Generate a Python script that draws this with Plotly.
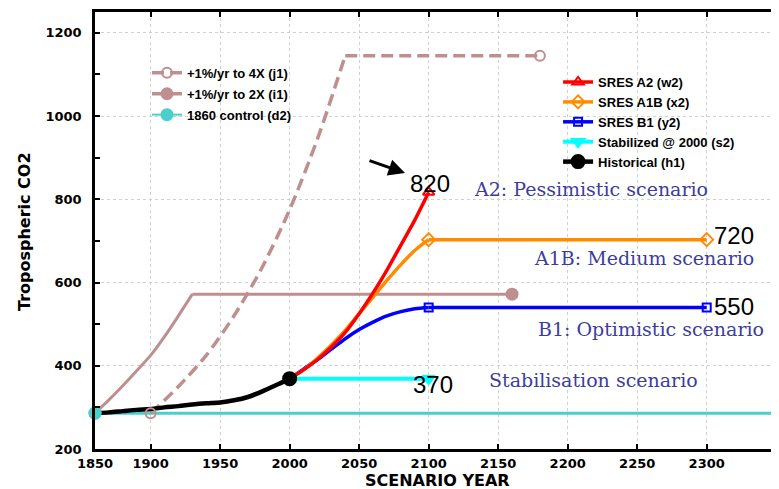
import plotly.graph_objects as go

# ---------------- data ----------------
hist_years = [1860, 1870, 1880, 1890, 1900, 1910, 1920, 1930, 1940, 1950, 1960, 1970, 1980, 1990, 2000]
hist_co2 = [286, 288, 291, 294, 296, 300, 303, 307, 310, 312, 317, 325, 338, 353, 369]

scen_years = [2000, 2010, 2020, 2030, 2040, 2050, 2060, 2070, 2080, 2090, 2100]
a2_co2 = [369, 390, 415, 445, 480, 525, 575, 630, 690, 750, 817]
a1b_co2 = [369, 390, 418, 450, 485, 525, 565, 605, 643, 677, 703]
b1_co2 = [369, 392, 415, 440, 465, 487, 505, 520, 530, 537, 540]
ext_years = [2100, 2300]
a1b_ext = [703, 703]
b1_ext = [540, 540]
stab_years = [2000, 2100]
stab_co2 = [369, 369]

x4_years = [1900, 1920, 1940, 1960, 1980, 2000, 2020, 2040]
x4_co2 = [286, 350, 425, 520, 635, 775, 945, 1145]
x4_flat_years = [2040, 2180]
x4_flat_co2 = [1145, 1145]
x2_years = [1860, 1870, 1880, 1890, 1900, 1910, 1920, 1930]
x2_co2 = [286, 318, 352, 388, 425, 470, 520, 572]
x2_flat_years = [1930, 2160]
x2_flat_co2 = [572, 572]
ctrl_years = [1860, 2400]
ctrl_co2 = [286, 286]

x_tickvals = [1860, 1900, 1950, 2000, 2050, 2100, 2150, 2200, 2250, 2300]
x_ticktext = ["1850", "1900", "1950", "2000", "2050", "2100", "2150", "2200", "2250", "2300"]
y_tickvals = [200, 400, 600, 800, 1000, 1200]

value_labels = ["820", "720", "550", "370"]
scenario_names = ["A2: Pessimistic scenario", "A1B: Medium scenario",
                  "B1: Optimistic scenario", "Stabilisation scenario"]

# ---------------- styles ----------------
ROSY = "#bf8f8f"
TURQ = "#48d1cc"
CYAN = "#00ffff"
RED = "#ff0000"
ORANGE = "#ff8c00"
BLUE = "#0000ff"
BLACK = "#000000"
TXTBLUE = "#3d3d9e"
DASH4X = "12px,6px"

fig = go.Figure()

def curve(x, y, color, width, dash="solid", shape="spline"):
    fig.add_trace(go.Scatter(x=x, y=y, mode="lines", showlegend=False,
                             line=dict(color=color, width=width, dash=dash, shape=shape,
                                       smoothing=0.8),
                             hoverinfo="skip"))

def marks(x, y, name, color, width, symbol, size, legend, dash="solid"):
    fig.add_trace(go.Scatter(x=x, y=y, mode="lines+markers", name=name,
                             legend=legend, legendgroup=name,
                             line=dict(color=color, width=width, dash=dash),
                             marker=dict(symbol=symbol, size=size, color=color,
                                         line=dict(color=color, width=2)),
                             connectgaps=False, cliponaxis=False))

# background curves
curve(ctrl_years, ctrl_co2, TURQ, 3, shape="linear")
curve(x2_years, x2_co2, ROSY, 3)
curve(x2_flat_years, x2_flat_co2, ROSY, 3, shape="linear")
curve(x4_years, x4_co2, ROSY, 3.5, dash=DASH4X)
curve(x4_flat_years, x4_flat_co2, ROSY, 3.5, dash=DASH4X, shape="linear")
curve(stab_years, stab_co2, CYAN, 4, shape="linear")
curve(scen_years, b1_co2, BLUE, 3.5)
curve(scen_years, a1b_co2, ORANGE, 3.5)
curve(scen_years, a2_co2, RED, 3.5)
curve(hist_years, hist_co2, BLACK, 4.5)

# legend 1 entries
marks([x4_years[0], None, x4_flat_years[-1]], [x4_co2[0], None, x4_flat_co2[-1]],
      "+1%/yr to 4X (j1)", ROSY, 3.5, "circle-open", 10, "legend", dash=DASH4X)
marks([x2_years[0], None, x2_flat_years[-1]], [x2_co2[0], None, x2_flat_co2[-1]],
      "+1%/yr to 2X (i1)", ROSY, 3.5, "circle", 11, "legend")
marks([ctrl_years[0]], [ctrl_co2[0]], "1860 control (d2)", TURQ, 2, "circle", 11, "legend")

# legend 2 entries
marks([scen_years[-1]], [a2_co2[-1]], "SRES A2 (w2)", RED, 3.5, "triangle-up-open", 10, "legend2")
marks(ext_years, a1b_ext, "SRES A1B (x2)", ORANGE, 3.5, "diamond-open", 10, "legend2")
marks(ext_years, b1_ext, "SRES B1 (y2)", BLUE, 3.5, "square-open", 8, "legend2")
marks([stab_years[-1]], [stab_co2[-1]], "Stabilized @ 2000 (s2)", CYAN, 4, "triangle-down", 11, "legend2")
marks([hist_years[-1]], [hist_co2[-1]], "Historical (h1)", BLACK, 4.5, "circle", 13, "legend2")

# ---------------- annotations ----------------
num_font = dict(family="Liberation Sans, Arial, sans-serif", size=24, color="black")
fig.add_annotation(x=2101, y=838, text=value_labels[0], showarrow=False, font=num_font)
fig.add_annotation(x=2304, y=714, text=value_labels[1], showarrow=False, font=num_font, xanchor="left")
fig.add_annotation(x=2304, y=543, text=value_labels[2], showarrow=False, font=num_font, xanchor="left")
fig.add_annotation(x=2087, y=355, text=value_labels[3], showarrow=False, font=num_font, xanchor="left")

fig.add_annotation(x=2083, y=863, ax=-37, ay=-13, text="", showarrow=True,
                   arrowhead=2, arrowsize=1.1, arrowwidth=3, arrowcolor="black")

sfont = dict(family="DejaVu Serif, Liberation Serif, serif", size=19, color=TXTBLUE)
fig.add_annotation(x=2131, y=825, text=scenario_names[0], showarrow=False, font=sfont, xanchor="left")
fig.add_annotation(x=2174, y=659, text=scenario_names[1], showarrow=False, font=sfont, xanchor="left")
fig.add_annotation(x=2177, y=488, text=scenario_names[2], showarrow=False, font=sfont, xanchor="left")
fig.add_annotation(x=2142, y=366, text=scenario_names[3], showarrow=False, font=sfont, xanchor="left")

# axis titles
fig.add_annotation(xref="paper", yref="paper", x=0.5, y=-0.071, text="SCENARIO YEAR",
                   showarrow=False, yanchor="middle", borderpad=0,
                   font=dict(family="DejaVu Sans, sans-serif", size=16, color="black", weight="bold"))
fig.add_annotation(xref="paper", yref="paper", x=-0.1023, y=0.4966, text="Tropospheric CO2",
                   showarrow=False, textangle=-90, xanchor="center", yanchor="middle",
                   font=dict(family="DejaVu Sans, sans-serif", size=16, color="black", weight="bold"))

# ---------------- layout ----------------
tickfont = dict(family="DejaVu Sans, sans-serif", size=13, color="black", weight="bold")
legfont = dict(family="Liberation Sans, Arial, sans-serif", size=13, color="black", weight="bold")

# page body has an 8px margin, so the figure is 8px smaller than the window
fig.update_layout(
    width=771, height=481,
    margin=dict(l=87, r=0, t=4, b=40),
    paper_bgcolor="white", plot_bgcolor="white",
    legend=dict(x=0.076, y=0.895, xanchor="left", yanchor="top", font=legfont,
                bgcolor="rgba(0,0,0,0)", traceorder="grouped", tracegroupgap=1),
    legend2=dict(x=0.677, y=0.874, xanchor="left", yanchor="top", font=legfont,
                 bgcolor="rgba(0,0,0,0)", traceorder="grouped", tracegroupgap=0),
    xaxis=dict(range=[1860, 2352], tickvals=x_tickvals, ticktext=x_ticktext,
               ticks="inside", ticklen=5, tickwidth=2, tickcolor="black",
               showline=True, linecolor="black", linewidth=2.5, mirror="ticks",
               showgrid=True, gridcolor="#d0d0d0", griddash="dot", gridwidth=1,
               zeroline=False, tickfont=tickfont, ticklabelstandoff=1, automargin=False),
    yaxis=dict(range=[200, 1250], tickvals=y_tickvals,
               ticks="inside", ticklen=5, tickwidth=2, tickcolor="black",
               showline=True, linecolor="black", linewidth=2.5, mirror=True,
               showgrid=True, gridcolor="#d0d0d0", griddash="dot", gridwidth=1,
               zeroline=False, tickfont=tickfont, ticklabelstandoff=8, automargin=False,
               minor=dict(dtick=100, ticks="inside", ticklen=5, tickwidth=2, tickcolor="black", showgrid=False)),
)

fig.write_html("out.html")
